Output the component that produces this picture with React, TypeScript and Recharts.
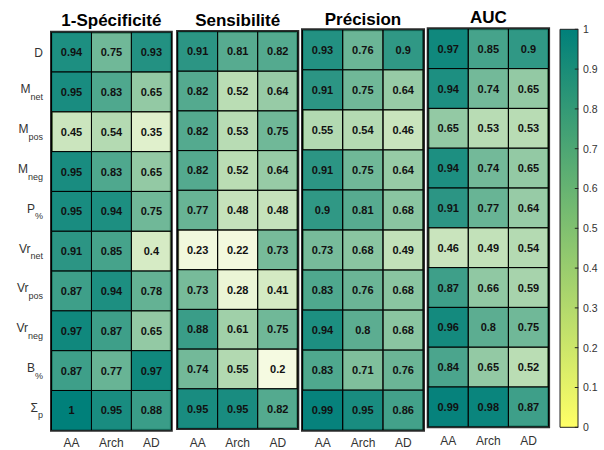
import React from 'react';
import { BarChart, Bar, XAxis, YAxis, Cell, LabelList, ReferenceArea, Customized } from 'recharts';

const categories = ['AA', 'Arch', 'AD'];
const rowLabels: [string, string][] = [
  ['D', ''], ['M', 'net'], ['M', 'pos'], ['M', 'neg'], ['P', '%'],
  ['Vr', 'net'], ['Vr', 'pos'], ['Vr', 'neg'], ['B', '%'], ['Σ', 'p'],
];

const specificite = [
  [0.94, 0.75, 0.93], [0.95, 0.83, 0.65], [0.45, 0.54, 0.35], [0.95, 0.83, 0.65], [0.95, 0.94, 0.75],
  [0.91, 0.85, 0.4], [0.87, 0.94, 0.78], [0.97, 0.87, 0.65], [0.87, 0.77, 0.97], [1, 0.95, 0.88],
];
const sensibilite = [
  [0.91, 0.81, 0.82], [0.82, 0.52, 0.64], [0.82, 0.53, 0.75], [0.82, 0.52, 0.64], [0.77, 0.48, 0.48],
  [0.23, 0.22, 0.73], [0.73, 0.28, 0.41], [0.88, 0.61, 0.75], [0.74, 0.55, 0.2], [0.95, 0.95, 0.82],
];
const precision = [
  [0.93, 0.76, 0.9], [0.91, 0.75, 0.64], [0.55, 0.54, 0.46], [0.91, 0.75, 0.64], [0.9, 0.81, 0.68],
  [0.73, 0.68, 0.49], [0.83, 0.76, 0.68], [0.94, 0.8, 0.68], [0.83, 0.71, 0.76], [0.99, 0.95, 0.86],
];
const auc = [
  [0.97, 0.85, 0.9], [0.94, 0.74, 0.65], [0.65, 0.53, 0.53], [0.94, 0.74, 0.65], [0.91, 0.77, 0.64],
  [0.46, 0.49, 0.54], [0.87, 0.66, 0.59], [0.96, 0.8, 0.75], [0.84, 0.65, 0.52], [0.99, 0.98, 0.87],
];
const titles = ['1-Spécificité', 'Sensibilité', 'Précision', 'AUC'];
const colorbarTicks = [0, 0.1, 0.2, 0.3, 0.4, 0.5, 0.6, 0.7, 0.8, 0.9, 1];

const W = 604;
const H = 450;
const FONT = '"Liberation Sans", Arial, Helvetica, sans-serif';

const LOW = [255, 255, 102];
const HIGH = [0, 128, 122];
const cmap = (v: number) => {
  const c = LOW.map((l, i) => Math.round(l + (HIGH[i] - l) * v));
  return `rgb(${c[0]},${c[1]},${c[2]})`;
};

type Area = { x: number; y: number; w: number; h: number };

const areas: Area[] = [
  { x: 51.5, y: 32.2, w: 119.8, h: 398.1 },
  { x: 177.6, y: 31.5, w: 120.2, h: 397.0 },
  { x: 302.5, y: 29.8, w: 121.0, h: 400.4 },
  { x: 428.2, y: 28.8, w: 120.4, h: 398.0 },
];
const titleBaselines = [26, 26, 24.5, 23];
const xLabelOffsets = [17, 18.5, 17, 18.5];

const stackData = categories.map((c) => {
  const o: any = { col: c };
  rowLabels.forEach((_, i) => { o['r' + i] = 1; });
  return o;
});

function Panel({ idx, values, showRows }: { idx: number; values: number[][]; showRows: boolean }) {
  const area = areas[idx];
  const yW = showRows ? 46 : 0;
  const xH = 18;
  const margin = {
    left: area.x - yW,
    top: area.y,
    right: W - area.x - area.w,
    bottom: H - area.y - area.h - xH,
  };
  const XTick = (p: any) => (
    <text x={p.x} y={area.y + area.h + xLabelOffsets[idx]} textAnchor="middle" fontSize={12} fill="#333" fontFamily={FONT}>
      {p.payload.value}
    </text>
  );
  const YTick = (p: any) => {
    const r = Math.round(p.payload.value - 0.5);
    const [main, sub] = rowLabels[r] || ['', ''];
    if (!sub) {
      return (
        <text x={43} y={p.y + 4.5} textAnchor="end" fontSize={12} fill="#333" fontFamily={FONT}>{main}</text>
      );
    }
    return (
      <text x={43} y={p.y + 1.5} textAnchor="end" fontSize={12} fill="#333" fontFamily={FONT}>
        <tspan>{main}</tspan>
        <tspan dy={6.5} fontSize={9}>{sub}</tspan>
      </text>
    );
  };
  const Title = () => (
    <text x={area.x + area.w / 2} y={titleBaselines[idx]} textAnchor="middle" fontSize={17} fontWeight="bold" fill="#000" fontFamily={FONT}>
      {titles[idx]}
    </text>
  );
  return (
    <div style={{ position: 'absolute', left: 0, top: 0 }}>
      <BarChart width={W} height={H} data={stackData} margin={margin} barCategoryGap={0} barGap={0}>
        <XAxis dataKey="col" type="category" interval={0} tickLine={false} axisLine={false} height={xH} tick={XTick} />
        <YAxis
          type="number"
          domain={[0, 10]}
          reversed
          hide={!showRows}
          width={yW}
          ticks={rowLabels.map((_, i) => i + 0.5)}
          interval={0}
          tickLine={false}
          axisLine={false}
          tick={YTick}
          allowDataOverflow
        />
        {rowLabels.map((_, r) => (
          <Bar key={r} dataKey={'r' + r} stackId="s" isAnimationActive={false}>
            {categories.map((c, j) => (
              <Cell key={c} fill={cmap(values[r][j])} fillOpacity={values[r][j]} stroke="#000" strokeWidth={1} />
            ))}
            <LabelList
              dataKey={'r' + r}
              content={(p: any) => {
                const b = p.viewBox && p.viewBox.width !== undefined ? p.viewBox : p;
                const j = p.index;
                const v = values[r][j];
                return (
                  <text
                    x={b.x + b.width / 2}
                    y={b.y + b.height / 2 + 4}
                    textAnchor="middle"
                    fontSize={11}
                    fontWeight="bold"
                    fill="#111"
                    fontFamily={FONT}
                  >
                    {String(v)}
                  </text>
                );
              }}
            />
          </Bar>
        ))}
        <ReferenceArea x1="AA" x2="AD" y1={0} y2={10} fill="none" stroke="#2e2e2e" strokeWidth={3} ifOverflow="visible" />
        <Customized component={Title} />
      </BarChart>
    </div>
  );
}

function Colorbar() {
  const cb = { x: 560, y: 29.3, w: 18.3, h: 398 };
  const yW = 26;
  const margin = { left: cb.x, top: cb.y, right: W - cb.x - cb.w - yW, bottom: H - cb.y - cb.h };
  const data = [{ k: 'cb', v: 1 }];
  const CTick = (p: any) => (
    <g>
      <line x1={cb.x + cb.w - 3.5} x2={cb.x + cb.w} y1={p.y} y2={p.y} stroke="#222" strokeWidth={1} />
      <text x={583} y={p.y + 3.8} fontSize={10.5} fill="#333" fontFamily={FONT}>{String(p.payload.value)}</text>
    </g>
  );
  return (
    <div style={{ position: 'absolute', left: 0, top: 0 }}>
      <BarChart width={W} height={H} data={data} margin={margin} barCategoryGap={0}>
        <defs>
          <linearGradient id="cbgrad" x1="0" y1="1" x2="0" y2="0">
            <stop offset="0%" stopColor={cmap(0)} />
            <stop offset="50%" stopColor={cmap(0.5)} />
            <stop offset="100%" stopColor={cmap(1)} />
          </linearGradient>
        </defs>
        <XAxis dataKey="k" hide />
        <YAxis
          type="number"
          orientation="right"
          domain={[0, 1]}
          ticks={colorbarTicks}
          interval={0}
          width={yW}
          tickLine={false}
          axisLine={false}
          tick={CTick}
        />
        <Bar dataKey="v" fill="url(#cbgrad)" stroke="#222" strokeWidth={1} isAnimationActive={false} />
      </BarChart>
    </div>
  );
}

export default function App() {
  const panels = [specificite, sensibilite, precision, auc];
  return (
    <div style={{ position: 'absolute', left: 0, top: 0, width: W, height: H, background: '#fff', overflow: 'hidden' }}>
      {panels.map((v, i) => (
        <Panel key={i} idx={i} values={v} showRows={i === 0} />
      ))}
      <Colorbar />
    </div>
  );
}
